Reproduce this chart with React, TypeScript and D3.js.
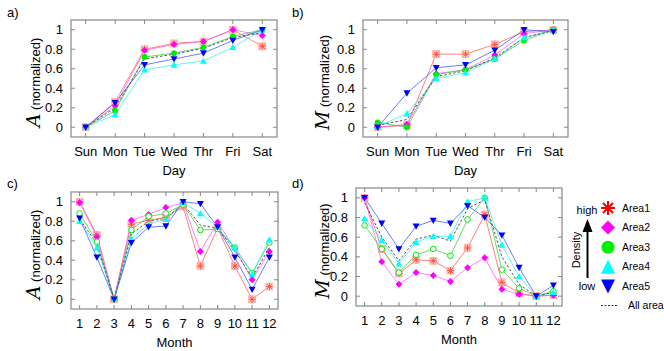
import * as d3 from 'd3';

// ── Data ─────────────────────────────────────────────────────────
const days = ['Sun', 'Mon', 'Tue', 'Wed', 'Thr', 'Fri', 'Sat'];
const months = [1, 2, 3, 4, 5, 6, 7, 8, 9, 10, 11, 12];
const yTicks = [0, 0.2, 0.4, 0.6, 0.8, 1];

// a) A vs Day
const aDay1 = [0, 0.26, 0.80, 0.86, 0.88, 1.0, 0.83];
const aDay2 = [0, 0.22, 0.79, 0.85, 0.88, 1.0, 0.94];
const aDay3 = [0, 0.17, 0.72, 0.76, 0.82, 0.93, 1.0];
const aDay4 = [0, 0.13, 0.59, 0.64, 0.68, 0.82, 1.0];
const aDay5 = [0, 0.25, 0.64, 0.70, 0.76, 0.89, 1.0];
const aDayAll = [0, 0.2, 0.70, 0.75, 0.81, 0.92, 0.97];

// b) M vs Day
const mDay1 = [0, 0.02, 0.75, 0.75, 0.85, 0.98, 1.0];
const mDay2 = [0, 0.03, 0.55, 0.59, 0.74, 0.96, 1.0];
const mDay3 = [0.05, 0, 0.54, 0.59, 0.70, 0.89, 1.0];
const mDay4 = [0.01, 0.14, 0.50, 0.56, 0.70, 0.92, 1.0];
const mDay5 = [0, 0.35, 0.61, 0.64, 0.79, 1.0, 0.98];
const mDayAll = [0.02, 0.08, 0.52, 0.58, 0.71, 0.92, 0.99];

// c) A vs Month
const aMon1 = [1.0, 0.66, 0, 0.77, 0.81, 0.84, 0.95, 0.34, 0.73, 0.34, 0.0, 0.13];
const aMon2 = [0.99, 0.64, 0, 0.81, 0.87, 0.94, 0.99, 0.49, 0.79, 0.52, 0.20, 0.49];
const aMon3 = [0.88, 0.59, 0, 0.71, 0.85, 0.88, 0.97, 0.71, 0.72, 0.53, 0.27, 0.58];
const aMon4 = [0.80, 0.53, 0, 0.62, 0.77, 0.82, 0.99, 0.88, 0.74, 0.53, 0.26, 0.61];
const aMon5 = [0.83, 0.43, 0, 0.58, 0.74, 0.75, 1.0, 0.98, 0.74, 0.43, 0.10, 0.43];
const aMonAll = [0.82, 0.57, 0, 0.67, 0.80, 0.83, 0.98, 0.76, 0.73, 0.50, 0.22, 0.53];

// d) M vs Month
const mMon1 = [1.0, 0.48, 0.23, 0.37, 0.36, 0.26, 0.49, 0.83, 0.14, 0.03, 0, 0.01];
const mMon2 = [1.0, 0.35, 0.12, 0.24, 0.21, 0.15, 0.29, 0.39, 0.07, 0.02, 0, 0.01];
const mMon3 = [0.72, 0.48, 0.24, 0.42, 0.48, 0.41, 0.78, 1.0, 0.27, 0.08, 0, 0.05];
const mMon4 = [0.79, 0.57, 0.33, 0.55, 0.61, 0.61, 0.96, 1.0, 0.52, 0.20, 0, 0.04];
const mMon5 = [1.0, 0.74, 0.48, 0.71, 0.77, 0.74, 0.92, 0.80, 0.62, 0.29, 0, 0.11];
const mMonAll = [0.95, 0.60, 0.36, 0.58, 0.62, 0.56, 0.89, 0.98, 0.40, 0.12, 0, 0.04];

const areaNames = ['Area1', 'Area2', 'Area3', 'Area4', 'Area5'];
const areaColors = ['#ff0000', '#ff00ff', '#00ee00', '#00ffff', '#0000ff'];
const lineColors = ['#ff5a4a', '#ff55ff', '#33cc33', '#33eeee', '#3355ff'];
const shapes = ['star', 'diamond', 'circle', 'up', 'down'];

const FONT = '"Liberation Sans", Arial, Helvetica, sans-serif';

// ── Markers ──────────────────────────────────────────────────────
function Marker({ shape, x, y, s, color, hollow }: any) {
  const h = s / 2;
  if (shape === 'star') {
    return (
      <g stroke={color} strokeWidth={1}>
        <rect x={x - h} y={y - h} width={s} height={s} fill="#ffd0c8" stroke="#ff9080" strokeWidth={0.6} opacity={0.8} />
        <line x1={x - h} y1={y} x2={x + h} y2={y} />
        <line x1={x} y1={y - h} x2={x} y2={y + h} />
        <line x1={x - h * 0.75} y1={y - h * 0.75} x2={x + h * 0.75} y2={y + h * 0.75} />
        <line x1={x - h * 0.75} y1={y + h * 0.75} x2={x + h * 0.75} y2={y - h * 0.75} />
      </g>
    );
  }
  if (shape === 'diamond') {
    return <path d={`M${x},${y - h}L${x + h},${y}L${x},${y + h}L${x - h},${y}Z`} fill={color} />;
  }
  if (shape === 'circle') {
    return hollow
      ? <circle cx={x} cy={y} r={h * 0.8} fill="white" stroke={color} strokeWidth={1} />
      : <circle cx={x} cy={y} r={h * 0.85} fill={color} />;
  }
  if (shape === 'up') {
    return <path d={`M${x},${y - h}L${x + h},${y + h * 0.8}L${x - h},${y + h * 0.8}Z`} fill={color} />;
  }
  return <path d={`M${x},${y + h}L${x + h},${y - h * 0.8}L${x - h},${y - h * 0.8}Z`} fill={color} />;
}

// ── Panel ────────────────────────────────────────────────────────
function Panel({ x0, x1, y0, y1, cats, series, all, varName, xTitle, letter, titleX, hollowCircle }: any) {
  const n = cats.length;
  const x = d3.scaleLinear().domain([-0.5, n - 0.5]).range([x0, x1]);
  const y = d3.scaleLinear().domain([-0.1, 1.1]).range([y1, y0]);
  const line = d3.line<number>().x((_, i) => x(i)).y(d => y(d));
  const tl = 4;
  const frame = '#888';

  return (
    <g fontFamily={FONT}>
      <text x={letter[0]} y={letter[1]} fontSize={13}>{letter[2]}</text>
      {/* ticks */}
      {yTicks.map(t => (
        <g key={'y' + t}>
          <line x1={x0} x2={x0 + tl} y1={y(t)} y2={y(t)} stroke={frame} />
          <line x1={x1} x2={x1 - tl} y1={y(t)} y2={y(t)} stroke={frame} />
          <text x={x0 - 8} y={y(t)} dy="0.35em" textAnchor="end" fontSize={13}>{t}</text>
        </g>
      ))}
      {cats.map((c: any, i: number) => (
        <g key={'x' + i}>
          <line x1={x(i)} x2={x(i)} y1={y1} y2={y1 - tl} stroke={frame} />
          <line x1={x(i)} x2={x(i)} y1={y0} y2={y0 + tl} stroke={frame} />
          <text x={x(i)} y={y1 + 19} textAnchor="middle" fontSize={13}>{c}</text>
        </g>
      ))}
      <rect x={x0} y={y0} width={x1 - x0} height={y1 - y0} fill="none" stroke={frame} strokeWidth={1.2} />
      <text x={(x0 + x1) / 2} y={y1 + 38} textAnchor="middle" fontSize={13}>{xTitle}</text>
      <text transform={`translate(${titleX},${(y0 + y1) / 2 + 4}) rotate(-90)`} textAnchor="middle">
        <tspan fontFamily='"DejaVu Serif", "Liberation Serif", serif' fontStyle="italic" fontSize={19}>{varName}</tspan>
        <tspan fontSize={13}> (normalized)</tspan>
      </text>
      {/* lines */}
      {series.map((s: number[], k: number) => (
        <path key={'l' + k} d={line(s) || ''} fill="none" stroke={lineColors[k]} strokeWidth={1} opacity={0.75} />
      ))}
      <path d={line(all) || ''} fill="none" stroke="#555" strokeWidth={1} strokeDasharray="2.5,2" />
      {series.map((s: number[], k: number) => (
        <g key={'m' + k}>
          {s.map((v, i) => (
            <Marker key={i} shape={shapes[k]} x={x(i)} y={y(v)} s={7}
              color={k === 0 ? '#ff5040' : areaColors[k]} hollow={hollowCircle} />
          ))}
        </g>
      ))}
    </g>
  );
}

function LegendMarker({ shape, x, y, color }: any) {
  const h = 7;
  if (shape === 'star') {
    return (
      <g stroke={color} strokeWidth={2}>
        <line x1={x - h} y1={y} x2={x + h} y2={y} />
        <line x1={x} y1={y - h} x2={x} y2={y + h} />
        <line x1={x - h * 0.72} y1={y - h * 0.72} x2={x + h * 0.72} y2={y + h * 0.72} />
        <line x1={x - h * 0.72} y1={y + h * 0.72} x2={x + h * 0.72} y2={y - h * 0.72} />
      </g>
    );
  }
  if (shape === 'diamond') return <path d={`M${x},${y - h}L${x + h},${y}L${x},${y + h}L${x - h},${y}Z`} fill={color} />;
  if (shape === 'circle') return <circle cx={x} cy={y} r={6.5} fill={color} />;
  if (shape === 'up') return <path d={`M${x},${y - h}L${x + h},${y + h}L${x - h},${y + h}Z`} fill={color} />;
  return <path d={`M${x},${y + h}L${x + h},${y - h}L${x - h},${y - h}Z`} fill={color} />;
}

function Legend() {
  const lx = 608;
  const ly = 208;
  const step = 19.6;
  return (
    <g fontFamily={FONT} fontSize={10.5}>
      <text x={587} y={210} dy="0.35em" textAnchor="middle" fontSize={11}>high</text>
      <text x={587} y={286} dy="0.35em" textAnchor="middle" fontSize={11}>low</text>
      <line x1={587.5} x2={587.5} y1={230} y2={278} stroke="black" strokeWidth={2} />
      <path d="M582.5,232 L592.5,232 L587.5,219 Z" fill="black" />
      <text transform="translate(580,250) rotate(-90)" textAnchor="middle" fontSize={11}>Density</text>
      {areaNames.map((a, i) => (
        <g key={a}>
          <LegendMarker shape={shapes[i]} x={lx} y={ly + i * step} color={areaColors[i]} />
          <text x={622} y={ly + i * step} dy="0.35em">{a}</text>
        </g>
      ))}
      <line x1={601} x2={618} y1={305.5} y2={305.5} stroke="#333" strokeDasharray="2,1.5" />
      <text x={628} y={305.5} dy="0.35em">All area</text>
    </g>
  );
}

export default function App() {
  return (
    <div style={{ position: 'absolute', left: 0, top: 0 }}>
      <svg width={664} height={351} style={{ display: 'block', background: 'white' }}>
        <Panel x0={71} x1={277} y0={20} y1={137} cats={days}
          series={[aDay1, aDay2, aDay3, aDay4, aDay5]} all={aDayAll}
          varName="A" xTitle="Day" letter={[7, 17, 'a)']} titleX={40} />
        <Panel x0={363} x1={568} y0={20} y1={137} cats={days}
          series={[mDay1, mDay2, mDay3, mDay4, mDay5]} all={mDayAll}
          varName="M" xTitle="Day" letter={[292, 17, 'b)']} titleX={329} />
        <Panel x0={71} x1={278} y0={192} y1={309} cats={months}
          series={[aMon1, aMon2, aMon3, aMon4, aMon5]} all={aMonAll}
          varName="A" xTitle="Month" letter={[7, 188, 'c)']} titleX={40} hollowCircle />
        <Panel x0={356} x1={562} y0={188} y1={306} cats={months}
          series={[mMon1, mMon2, mMon3, mMon4, mMon5]} all={mMonAll}
          varName="M" xTitle="Month" letter={[292, 188, 'd)']} titleX={329} hollowCircle />
        <Legend />
      </svg>
    </div>
  );
}
